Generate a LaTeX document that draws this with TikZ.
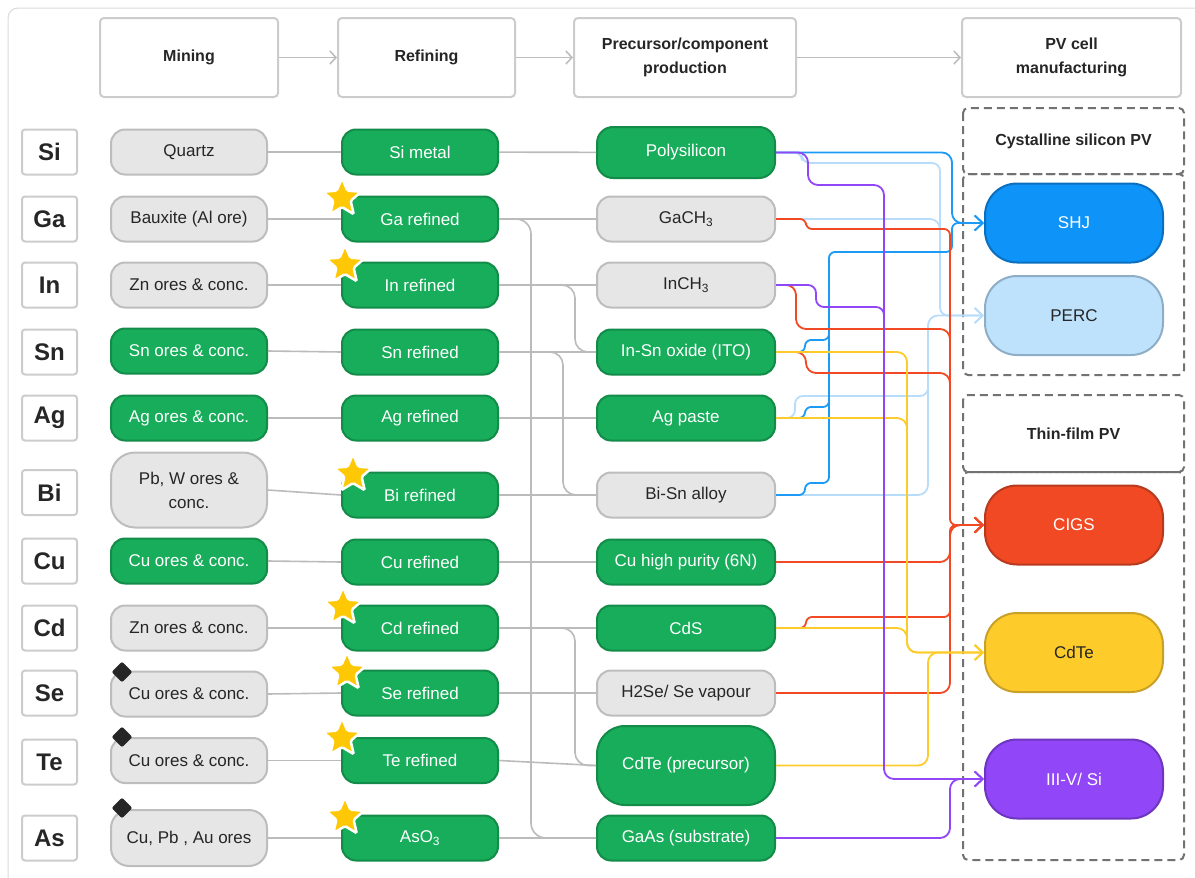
\documentclass[tikz,border=0pt]{standalone}
\usepackage{fontspec}
\setmainfont{Liberation Sans}
\usetikzlibrary{arrows.meta,shapes.geometric}

\definecolor{txtdark}{HTML}{262626}
\definecolor{boxgrey}{HTML}{E6E6E6}
\definecolor{edgegrey}{HTML}{BDBDBD}
\definecolor{boxgreen}{HTML}{17AD5B}
\definecolor{edgegreen}{HTML}{138C49}
\definecolor{linkgrey}{HTML}{BBBBBB}
\definecolor{hdrgrey}{HTML}{CCCCCC}
\definecolor{framegrey}{HTML}{DADADA}
\definecolor{dashgrey}{HTML}{727272}
\definecolor{shjblue}{HTML}{0E93F8}
\definecolor{shjedge}{HTML}{0B6FC0}
\definecolor{perclight}{HTML}{BEE2FB}
\definecolor{percedge}{HTML}{8EADC6}
\definecolor{cigsred}{HTML}{F04923}
\definecolor{cigsedge}{HTML}{B83A1E}
\definecolor{cdteyel}{HTML}{FDCB2A}
\definecolor{cdteedge}{HTML}{C9A128}
\definecolor{ivpurple}{HTML}{9146F8}
\definecolor{ivedge}{HTML}{6E36BE}
\definecolor{flowblue}{HTML}{1C9AF6}
\definecolor{flowlight}{HTML}{B7DDFA}
\definecolor{starfill}{HTML}{FFC805}

\begin{document}
\begin{tikzpicture}[
    x=1pt, y=-1pt,
    hdr/.style={draw=hdrgrey, fill=white, line width=2pt, rounded corners=4pt, minimum height=79pt, align=center, text=txtdark, font=\fontsize{16}{24}\selectfont\bfseries},
    elem/.style={draw=hdrgrey, fill=white, line width=2pt, rounded corners=3pt, minimum width=55pt, minimum height=45pt, inner sep=0pt, text=txtdark, font=\fontsize{24}{28}\selectfont\bfseries},
    greybox/.style={fill=boxgrey, draw=edgegrey, line width=2pt, rounded corners=14pt, minimum height=45pt, inner sep=0pt, align=center, text=txtdark, font=\fontsize{17}{24}\selectfont},
    greenbox/.style={fill=boxgreen, draw=edgegreen, line width=2pt, rounded corners=14pt, minimum height=45pt, inner sep=0pt, align=center, text=white, font=\fontsize{17}{24}\selectfont},
    mine/.style={minimum width=156pt},
    refi/.style={minimum width=156pt},
    prec/.style={minimum width=178pt},
    pvbox/.style={line width=2pt, rounded corners=32pt, minimum width=178pt, minimum height=79pt, font=\fontsize{17}{24}\selectfont},
    grouptitle/.style={text=txtdark, font=\fontsize{16}{24}\selectfont\bfseries},
    dashbox/.style={draw=dashgrey, line width=2pt, dash pattern=on 8pt off 5pt, rounded corners=5pt},
    link/.style={draw=linkgrey, line width=1.6pt},
    hdrarrow/.style={draw=edgegrey, line width=1.6pt, -{Straight Barb[length=6pt, width=13pt]}},
    flow/.style={line width=1.8pt, rounded corners=10pt},
    tip/.style={-{Straight Barb[length=8pt, width=15pt]}},
    fblue/.style={flow, draw=flowblue},
    flight/.style={flow, draw=flowlight},
    fred/.style={flow, draw=cigsred},
    fyel/.style={flow, draw=cdteyel},
    fpur/.style={flow, draw=ivpurple},
    critstar/.style={star, star points=5, star point ratio=2.2, minimum size=40pt, inner sep=0pt, fill=starfill, draw=white, line width=2.5pt, rounded corners=1.5pt},
    byprod/.style={diamond, minimum width=21pt, minimum height=21pt, inner sep=0pt, fill=txtdark, rounded corners=2pt},
]
\useasboundingbox (0,0) rectangle (1195,878);
\draw[framegrey, line width=1pt, rounded corners=10pt] (8,8) rectangle (1230,910);

% stage headers
\node[hdr, minimum width=178pt] (h-mine) at (189,57.5) {Mining};
\node[hdr, minimum width=177pt] (h-refi) at (426.5,57.5) {Refining};
\node[hdr, minimum width=222pt] (h-prec) at (685,57.5) {Precursor/component\\production};
\node[hdr, minimum width=219pt] (h-pv) at (1071.5,57.5) {PV cell\\manufacturing};
\draw[hdrarrow] (h-mine) -- (h-refi);
\draw[hdrarrow] (h-refi) -- (h-prec);
\draw[hdrarrow] (h-prec) -- (h-pv);

% elements
\node[elem] (e-si) at (49.5,152) {Si};
\node[elem] (e-ga) at (49.5,219) {Ga};
\node[elem] (e-in) at (49.5,285) {In};
\node[elem] (e-sn) at (49.5,352) {Sn};
\node[elem] (e-ag) at (49.5,418) {Ag};
\node[elem] (e-bi) at (49.5,492.5) {Bi};
\node[elem] (e-cu) at (49.5,561) {Cu};
\node[elem] (e-cd) at (49.5,628) {Cd};
\node[elem] (e-se) at (49.5,693) {Se};
\node[elem] (e-te) at (49.5,762) {Te};
\node[elem] (e-as) at (49.5,838) {As};

% mining
\node[greybox, mine] (m-si) at (189,152) {Quartz};
\node[greybox, mine] (m-ga) at (189,219) {Bauxite (Al ore)};
\node[greybox, mine] (m-in) at (189,285) {Zn ores \& conc.};
\node[greenbox, mine] (m-sn) at (189,351) {Sn ores \& conc.};
\node[greenbox, mine] (m-ag) at (189,418) {Ag ores \& conc.};
\node[greybox, mine, minimum height=75pt, rounded corners=24pt] (m-bi) at (189,490) {Pb, W ores \&\\conc.};
\node[greenbox, mine] (m-cu) at (189,561) {Cu ores \& conc.};
\node[greybox, mine] (m-cd) at (189,628) {Zn ores \& conc.};
\node[greybox, mine] (m-se) at (189,694) {Cu ores \& conc.};
\node[greybox, mine] (m-te) at (189,760.5) {Cu ores \& conc.};
\node[greybox, mine, minimum height=56pt, rounded corners=18pt] (m-as) at (189,838) {Cu, Pb , Au ores};

% refining
\node[greenbox, refi] (r-si) at (420,152) {Si metal};
\node[greenbox, refi] (r-ga) at (420,219) {Ga refined};
\node[greenbox, refi] (r-in) at (420,285) {In refined};
\node[greenbox, refi] (r-sn) at (420,352) {Sn refined};
\node[greenbox, refi] (r-ag) at (420,418) {Ag refined};
\node[greenbox, refi] (r-bi) at (420,495) {Bi refined};
\node[greenbox, refi] (r-cu) at (420,562) {Cu refined};
\node[greenbox, refi] (r-cd) at (420,628) {Cd refined};
\node[greenbox, refi] (r-se) at (420,693) {Se refined};
\node[greenbox, refi] (r-te) at (420,760.5) {Te refined};
\node[greenbox, refi] (r-as) at (420,838) {AsO\textsubscript{3}};

% precursors / components
\node[greenbox, prec, minimum height=51pt, rounded corners=16pt] (p-poly) at (686,152.5) {Polysilicon};
\node[greybox, prec] (p-gach) at (686,219) {GaCH\textsubscript{3}};
\node[greybox, prec] (p-inch) at (686,285) {InCH\textsubscript{3}};
\node[greenbox, prec] (p-ito) at (686,352) {In-Sn oxide (ITO)};
\node[greenbox, prec] (p-ag) at (686,418) {Ag paste};
\node[greybox, prec] (p-bisn) at (686,495) {Bi-Sn alloy};
\node[greenbox, prec] (p-cu) at (686,562) {Cu high purity (6N)};
\node[greenbox, prec] (p-cds) at (686,628) {CdS};
\node[greybox, prec] (p-h2se) at (686,693) {H2Se/ Se vapour};
\node[greenbox, prec, minimum height=79pt, rounded corners=28pt] (p-cdte) at (686,765.5) {CdTe (precursor)};
\node[greenbox, prec] (p-gaas) at (686,838) {GaAs (substrate)};

% grey links
\draw[link] (m-si) -- (r-si);
\draw[link] (m-ga) -- (r-ga);
\draw[link] (m-in) -- (r-in);
\draw[link] (m-sn.east) -- (r-sn.west);
\draw[link] (m-ag) -- (r-ag);
\draw[link] (m-bi.east) -- (r-bi.west);
\draw[link] (m-cu.east) -- (r-cu.west);
\draw[link] (m-cd) -- (r-cd);
\draw[link] (m-se.east) -- (r-se.west);
\draw[link] (m-te) -- (r-te);
\draw[link] (m-as) -- (r-as);
\draw[link] (r-si) -- (p-poly);
\draw[link] (r-ga) -- (p-gach);
\draw[link] (r-in) -- (p-inch);
\draw[link] (r-sn) -- (p-ito);
\draw[link] (r-ag) -- (p-ag);
\draw[link] (r-bi) -- (p-bisn);
\draw[link] (r-cu) -- (p-cu);
\draw[link] (r-cd) -- (p-cds);
\draw[link] (r-se) -- (p-h2se);
\draw[link] (r-te.east) -- (p-cdte.west);
\draw[link] (r-as) -- (p-gaas);
\draw[link, rounded corners=15pt] (r-ga.east) -- (531,219) -- (531,838) -- (p-gaas.west);
\draw[link, rounded corners=13pt] (r-in.east) -- (575,285) -- (575,352) -- (p-ito.west);
\draw[link, rounded corners=13pt] (r-sn.east) -- (563,352) -- (563,495) -- (p-bisn.west);
\draw[link, rounded corners=13pt] (r-cd.east) -- (575,628) -- (575,765.5) -- (p-cdte.west);

% PV technology groups
\draw[dashbox] (963,108) rectangle (1184,174);
\draw[dashbox] (963,174) rectangle (1184,375);
\node[grouptitle] (g-csi) at (1073.5,141) {Cystalline silicon PV};
\draw[dashbox] (963,395) rectangle (1184,472);
\draw[dashbox] (963,472) rectangle (1184,860);
\node[grouptitle] (g-thin) at (1073.5,434) {Thin-film PV};

\node[pvbox, fill=shjblue, draw=shjedge, text=white] (shj) at (1074,223) {SHJ};
\node[pvbox, fill=perclight, draw=percedge, text=txtdark] (perc) at (1074,315.5) {PERC};
\node[pvbox, fill=cigsred, draw=cigsedge, text=white] (cigs) at (1074,525) {CIGS};
\node[pvbox, fill=cdteyel, draw=cdteedge, text=txtdark] (cdte) at (1074,652.5) {CdTe};
\node[pvbox, fill=ivpurple, draw=ivedge, text=white] (iiiv) at (1074,779) {III-V/ Si};

% flows to PERC
\draw[flight, tip, rounded corners=8pt] (p-poly.east) -- (802,152.5) -- (802,163) -- (940,163) -- (940,315.5) -- (perc.west);
\draw[flight] (p-gach.east) -- (940,219) -- (940,245);
\draw[flight, tip] (p-bisn.east) -- (928,495) -- (928,315.5) -- (perc.west);
\draw[flight, rounded corners=8pt] (p-ag.east) -- (795,418) -- (795,396) -- (928,396) -- (928,380);

% flows to SHJ
\draw[fblue, tip] (p-poly.east) -- (952,152.5) -- (952,223) -- (shj.west);
\draw[fblue, tip, rounded corners=6pt] (p-bisn.east) -- (805,495) -- (805,483) -- (829,483) -- (829,252) -- (952,252) -- (952,223) -- (shj.west);
\draw[fblue, rounded corners=6pt] (p-ito.east) -- (805,352) -- (805,340) -- (829,340) -- (829,320);
\draw[fblue, rounded corners=6pt] (p-ag.east) -- (805,418) -- (805,407) -- (829,407) -- (829,390);

% flows to CIGS
\draw[fred, tip, rounded corners=6pt] (p-gach.east) -- (806,219) -- (806,229) -- (950,229) -- (950,525) -- (cigs.west);
\draw[fred] (p-inch.east) -- (796,285) -- (796,329) -- (950,329) -- (950,350);
\draw[fred] (p-ito.east) -- (806,352) -- (806,373) -- (950,373) -- (950,395);
\draw[fred, tip] (p-cu.east) -- (950,562) -- (950,525) -- (cigs.west);
\draw[fred, tip, rounded corners=6pt] (p-cds.east) -- (806,628) -- (806,617) -- (950,617) -- (950,525) -- (cigs.west);
\draw[fred, tip] (p-h2se.east) -- (950,693) -- (950,525) -- (cigs.west);

% flows to CdTe
\draw[fyel, tip] (p-ito.east) -- (907,352) -- (907,652.5) -- (cdte.west);
\draw[fyel] (p-ag.east) -- (907,418) -- (907,440);
\draw[fyel, tip] (p-cds.east) -- (907,628) -- (907,652.5) -- (cdte.west);
\draw[fyel, tip] (p-cdte.east) -- (928,765.5) -- (928,652.5) -- (cdte.west);

% flows to III-V/Si
\draw[fpur, tip] (p-poly.east) -- (808,152.5) -- (808,185) -- (884,185) -- (884,779) -- (iiiv.west);
\draw[fpur, rounded corners=8pt] (p-inch.east) -- (816,285) -- (816,307) -- (884,307) -- (884,330);
\draw[fpur, tip] (p-gaas.east) -- (950,838) -- (950,779) -- (iiiv.west);

% markers
\node[critstar] (s-ga) at (342,198) {};
\node[critstar] (s-in) at (345,265) {};
\node[critstar] (s-bi) at (353,474) {};
\node[critstar] (s-cd) at (343,607) {};
\node[critstar] (s-se) at (347,672) {};
\node[critstar] (s-te) at (342,738) {};
\node[critstar] (s-as) at (345,817) {};
\node[byprod] (d-se) at (122,672) {};
\node[byprod] (d-te) at (122,737) {};
\node[byprod] (d-as) at (122,808) {};
\end{tikzpicture}
\end{document}
